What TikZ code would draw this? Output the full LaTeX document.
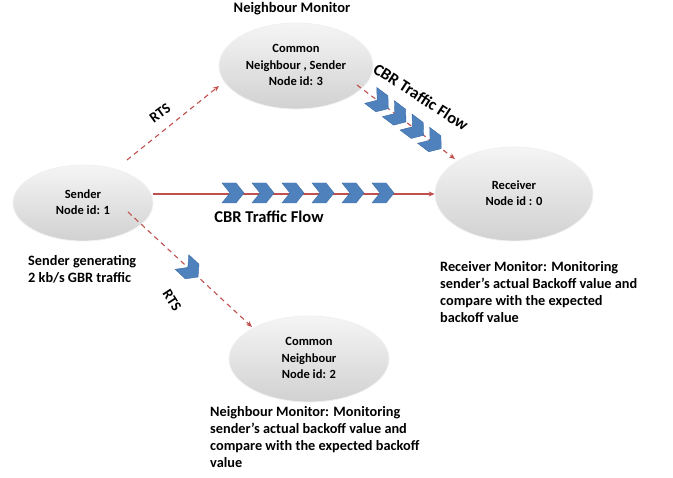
\documentclass[tikz,border=0pt]{standalone}
\usepackage{fontspec}
\setmainfont{Carlito}
\usetikzlibrary{shapes.geometric,calc,arrows.meta}
\definecolor{rred}{HTML}{C0504D}
\definecolor{cblue}{HTML}{4F81BD}
\definecolor{cblueD}{HTML}{3B6CA5}
\newcommand\uptext[2]{\raisebox{#1}{\begin{tabular}{@{}c@{}}#2\end{tabular}}}
\begin{document}
\begin{tikzpicture}[x=1pt,y=-1pt,
  nodeell/.style={ellipse, top color=gray!8, bottom color=gray!36, draw=gray!12,
    line width=0.8pt, align=center, inner sep=0pt,
    font=\bfseries\fontsize{12.5}{16.5}\selectfont},
  rts/.style={draw=rred, dash pattern=on 5pt off 4pt, line width=1.1pt,
    -{Stealth[length=6pt,width=5pt]}},
  flow/.style={draw=rred, line width=1.1pt, -{Stealth[length=6pt,width=5pt]}},
  txt/.style={font=\bfseries\fontsize{14.3}{17.2}\selectfont, align=left,
    anchor=north west, inner sep=0pt},
  lbl/.style={font=\bfseries\fontsize{14.5}{16}\selectfont, inner sep=0pt},
  big/.style={font=\bfseries\fontsize{16.5}{18}\selectfont, inner sep=0pt},
  chev/.pic={\filldraw[fill=cblue, draw=cblueD, line width=0.4pt]
    (-11,-10) -- (3,-10) -- (11,0) -- (3,10) -- (-11,10) -- (-3,0) -- cycle;}
]
\useasboundingbox (0,0) rectangle (673,478);

% nodes
\node[nodeell, minimum width=140, minimum height=76] (s) at (83,203) {\uptext{3pt}{Sender\\Node id: 1}};
\node[nodeell, minimum width=154, minimum height=86] (n3) at (296,66) {\uptext{10pt}{Common\\Neighbour , Sender\\Node id: 3}};
\node[nodeell, minimum width=158, minimum height=94] (r) at (514,194) {\uptext{0pt}{Receiver\\Node id : 0}};
\node[nodeell, minimum width=160, minimum height=86] (c2) at (309,359) {\uptext{8pt}{Common\\Neighbour\\Node id: 2}};

% connector end points
\coordinate (a1) at (127,160);
\coordinate (a2) at (219,86);
\coordinate (b1) at (128,212);
\coordinate (b2) at (252,327);
\coordinate (d1) at (357,85);
\coordinate (d2) at (455,159);

% connectors
\draw[rts] (a1) -- (a2);
\draw[rts] (b1) -- (b2);
\draw[rts] (d1) -- (d2);
\draw[flow] (r.west -| s.east) -- (r.west);

% chevrons
\foreach \x in {233,263,293,323,353,383} \pic at (\x,193) {chev};
\foreach \t in {0.23,0.41,0.59,0.77} \pic[rotate=-37] at ($(d1)!\t!(d2)$) {chev};
\pic[rotate=-43] at ($(b1)!0.5!(b2)$) {chev};

% labels
\node[lbl] (t1) at (292,9) {Neighbour Monitor};
\node[lbl, rotate=36] (rts1) at (160,113) {RTS};
\node[lbl, rotate=-57] (rts2) at (172,300) {RTS};
\node[big] (cbr1) at (269,217) {CBR Traffic Flow};
\node[big, rotate=-33] (cbr2) at (421,97) {CBR Traffic Flow};

\node[txt] (st) at (28,255) {Sender generating\\2 kb/s GBR traffic};
\node[txt] (rt) at (440,261) {Receiver Monitor: Monitoring\\sender’s actual Backoff value and\\compare with the expected\\backoff value};
\node[txt] (nt) at (210,406) {Neighbour Monitor: Monitoring\\sender’s actual backoff value and\\compare with the expected backoff\\value};
\end{tikzpicture}
\end{document}
